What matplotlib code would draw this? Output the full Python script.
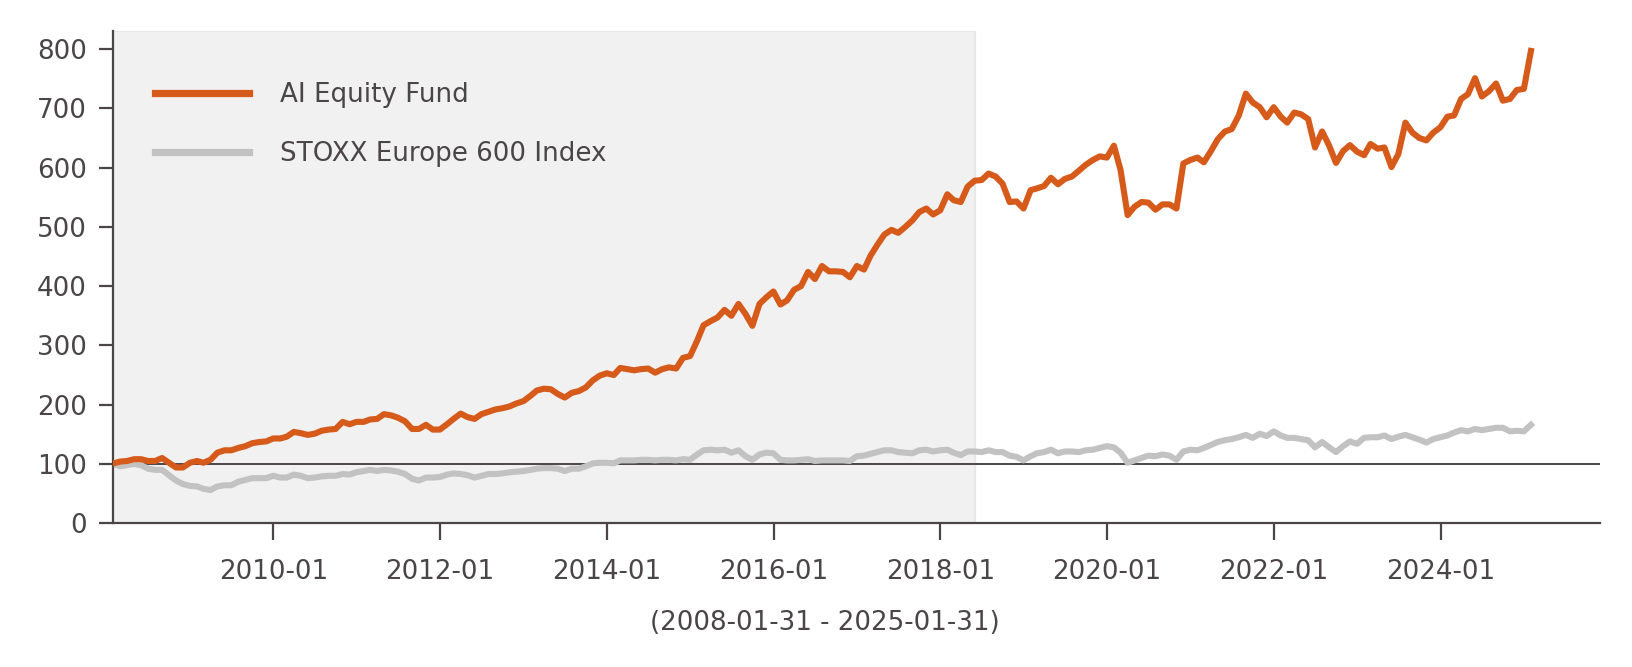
import numpy as np
import pandas as pd
import matplotlib
matplotlib.use("Agg")
from matplotlib import pyplot as plt
import matplotlib.dates as mdates

# Monthly values, 2008-01-31 .. 2025-01-31
dates = pd.date_range("2008-01-31", "2025-01-31", freq="ME")

fund = [
    101, 104, 105, 108, 108, 105, 105, 110, 102, 94, 94, 102,
    105, 102, 107, 119, 123, 123, 127, 130, 135, 137, 138, 143,
    143, 146, 154, 152, 149, 151, 156, 158, 159, 171, 167, 171,
    171, 175, 176, 184, 182, 178, 172, 159, 159, 166, 158, 158,
    167, 176, 185, 179, 176, 184, 188, 192, 194, 197, 202, 206,
    215, 224, 227, 226, 218, 212, 220, 223, 229, 241, 249, 253,
    250, 262, 260, 258, 260, 261, 254, 260, 263, 261, 279, 282,
    308, 334, 341, 347, 360, 350, 370, 353, 333, 370, 381, 391,
    369, 376, 394, 400, 424, 412, 434, 425, 425, 424, 415, 434,
    428, 451, 470, 487, 495, 490, 500, 511, 525, 531, 521, 528,
    555, 545, 542, 568, 578, 579, 590, 585, 573, 542, 543, 531,
    562, 565, 569, 583, 572, 581, 585, 595, 605, 613, 619, 617,
    637, 596, 520, 534, 542, 541, 529, 538, 538, 531, 607, 613,
    617, 609, 628, 648, 661, 665, 688, 725, 710, 702, 685, 702,
    686, 676, 693, 690, 682, 634, 661, 637, 608, 628, 638, 627,
    621, 640, 632, 634, 601, 623, 676, 659, 650, 646, 659, 668,
    686, 688, 716, 724, 751, 720, 729, 742, 713, 716, 731, 733,
    797,
]

stoxx = [
    100, 96, 98, 100, 98, 92, 90, 90, 81, 72, 66, 63,
    62, 58, 56, 62, 64, 64, 70, 73, 76, 76, 76, 80,
    77, 77, 82, 80, 76, 77, 79, 80, 80, 83, 82, 86,
    88, 90, 88, 90, 89, 87, 83, 75, 72, 77, 77, 78,
    82, 84, 83, 81, 77, 80, 83, 83, 84, 86, 87, 88,
    90, 92, 93, 93, 92, 88, 92, 92, 96, 101, 102, 102,
    101, 106, 106, 106, 107, 107, 106, 107, 107, 106, 108, 107,
    116, 123, 124, 123, 124, 119, 123, 113, 107, 116, 119, 118,
    107, 106, 106, 107, 108, 105, 106, 106, 106, 106, 105, 113,
    114, 117, 120, 123, 123, 120, 119, 118, 123, 124, 121, 123,
    124, 119, 115, 121, 121, 120, 123, 120, 120, 114, 112, 106,
    113, 118, 120, 124, 118, 121, 121, 120, 123, 124, 127, 130,
    128, 119, 102, 106, 110, 114, 113, 116, 114, 107, 121, 124,
    123, 127, 132, 137, 140, 142, 145, 149, 144, 151, 147, 155,
    148, 144, 144, 142, 140, 128, 137, 128, 120, 130, 138, 134,
    144, 145, 145, 148, 142, 146, 149, 145, 141, 136, 142, 145,
    148, 153, 157, 155, 159, 157, 159, 161, 161, 155, 156, 155,
    166,
]

labels = ["AI Equity Fund", "STOXX Europe 600 Index"]
shade_end = pd.Timestamp("2018-05-31")
x_right = pd.Timestamp("2025-12-01")

txt = "#4b4547"
orange = "#d65a1a"
grey = "#c2c2c2"

plt.rcParams["font.family"] = "DejaVu Sans"
plt.rcParams["font.size"] = 9.4

fig = plt.figure(figsize=(8.165, 3.335), dpi=200)
ax = fig.add_axes([0.0695, 0.2156, 0.9105, 0.7374])

ax.axvspan(dates[0], shade_end, facecolor="#f1f1f1", edgecolor="#e8e8e8", lw=0.8, zorder=0)
ax.axhline(100, color=txt, lw=0.7, zorder=1)

ax.plot(dates, fund, color=orange, lw=2.2, label=labels[0], zorder=3)
ax.plot(dates, stoxx, color=grey, lw=2.2, label=labels[1], zorder=2)

ax.set_xlim(dates[0], x_right)
ax.set_ylim(0, 830)
ax.set_yticks(range(0, 900, 100))
ax.xaxis.set_major_locator(mdates.YearLocator(2, month=1, day=1))
ax.xaxis.set_major_formatter(mdates.DateFormatter("%Y-%m"))

for s in ["top", "right"]:
    ax.spines[s].set_visible(False)
for s in ["left", "bottom"]:
    ax.spines[s].set_color(txt)
    ax.spines[s].set_linewidth(0.8)

ax.tick_params(axis="y", colors=txt, length=5, width=0.8, pad=4.5)
ax.tick_params(axis="x", colors=txt, length=6, width=0.8, pad=7)

# date range caption sits near the figure centre, not the axes centre
fig.text(0.505, 0.066, "(2008-01-31 - 2025-01-31)", color=txt, ha="center", va="center")

leg = ax.legend(loc="upper left", bbox_to_anchor=(-0.004, 0.992), frameon=False,
                handlelength=3.6, handletextpad=1.2, labelspacing=1.25,
                borderaxespad=1.4, labelcolor=txt)
for h in leg.legend_handles:
    h.set_linewidth(2.6)

fig.savefig("out.png", dpi=200)
